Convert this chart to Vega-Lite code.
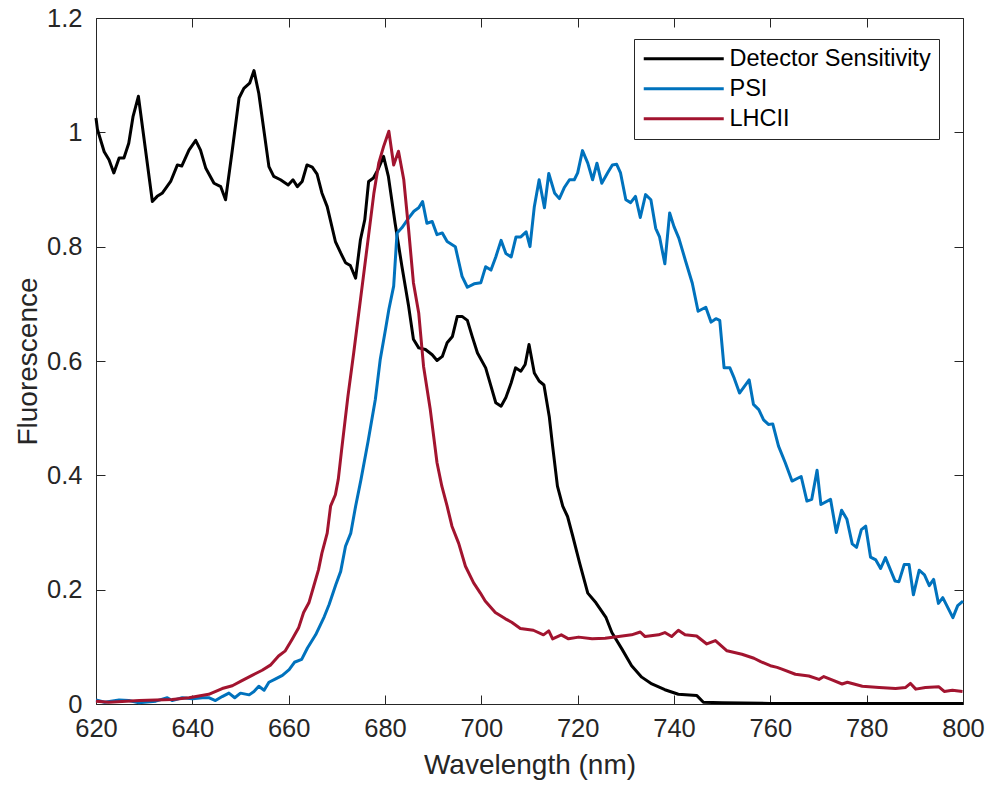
{
  "$schema": "https://vega.github.io/schema/vega-lite/v6.json",
  "width": 867,
  "height": 686,
  "autosize": {"type": "none"},
  "padding": {"left": 96, "top": 18, "right": 28, "bottom": 81},
  "background": "white",
  "config": {
    "font": "Liberation Sans",
    "view": {"stroke": "#262626", "strokeWidth": 1},
    "axis": {
      "domain": false,
      "grid": false,
      "ticks": true,
      "zindex": 1,
      "tickColor": "#262626",
      "tickWidth": 1,
      "tickSize": -9,
      "labelColor": "#262626",
      "labelFont": "Liberation Sans",
      "labelFontSize": 25.5,
      "titleColor": "#262626",
      "titleFont": "Liberation Sans",
      "titleFontSize": 28,
      "titleFontWeight": "normal"
    }
  },
  "data": {
    "values": [
      {"series": "Detector Sensitivity", "nm": 620, "value": 1.025},
      {"series": "Detector Sensitivity", "nm": 620.3, "value": 1.005},
      {"series": "Detector Sensitivity", "nm": 621.7, "value": 0.966},
      {"series": "Detector Sensitivity", "nm": 622.7, "value": 0.952},
      {"series": "Detector Sensitivity", "nm": 623.7, "value": 0.929},
      {"series": "Detector Sensitivity", "nm": 624.8, "value": 0.955},
      {"series": "Detector Sensitivity", "nm": 625.8, "value": 0.955},
      {"series": "Detector Sensitivity", "nm": 626.8, "value": 0.981},
      {"series": "Detector Sensitivity", "nm": 627.7, "value": 1.028},
      {"series": "Detector Sensitivity", "nm": 628.8, "value": 1.063},
      {"series": "Detector Sensitivity", "nm": 630, "value": 0.987},
      {"series": "Detector Sensitivity", "nm": 631.7, "value": 0.879},
      {"series": "Detector Sensitivity", "nm": 632.7, "value": 0.888},
      {"series": "Detector Sensitivity", "nm": 633.8, "value": 0.894},
      {"series": "Detector Sensitivity", "nm": 635.5, "value": 0.914},
      {"series": "Detector Sensitivity", "nm": 636.9, "value": 0.943},
      {"series": "Detector Sensitivity", "nm": 637.8, "value": 0.941},
      {"series": "Detector Sensitivity", "nm": 639.3, "value": 0.969},
      {"series": "Detector Sensitivity", "nm": 640.7, "value": 0.986},
      {"series": "Detector Sensitivity", "nm": 641.7, "value": 0.969},
      {"series": "Detector Sensitivity", "nm": 642.8, "value": 0.937},
      {"series": "Detector Sensitivity", "nm": 644.5, "value": 0.911},
      {"series": "Detector Sensitivity", "nm": 645.9, "value": 0.905},
      {"series": "Detector Sensitivity", "nm": 646.9, "value": 0.882},
      {"series": "Detector Sensitivity", "nm": 648.3, "value": 0.969},
      {"series": "Detector Sensitivity", "nm": 649.7, "value": 1.06},
      {"series": "Detector Sensitivity", "nm": 650.7, "value": 1.077},
      {"series": "Detector Sensitivity", "nm": 651.9, "value": 1.086},
      {"series": "Detector Sensitivity", "nm": 652.8, "value": 1.108},
      {"series": "Detector Sensitivity", "nm": 653.8, "value": 1.068},
      {"series": "Detector Sensitivity", "nm": 655.9, "value": 0.94},
      {"series": "Detector Sensitivity", "nm": 656.9, "value": 0.923},
      {"series": "Detector Sensitivity", "nm": 658.3, "value": 0.917},
      {"series": "Detector Sensitivity", "nm": 659.9, "value": 0.908},
      {"series": "Detector Sensitivity", "nm": 660.9, "value": 0.917},
      {"series": "Detector Sensitivity", "nm": 661.8, "value": 0.905},
      {"series": "Detector Sensitivity", "nm": 662.8, "value": 0.914},
      {"series": "Detector Sensitivity", "nm": 663.8, "value": 0.943},
      {"series": "Detector Sensitivity", "nm": 664.9, "value": 0.939},
      {"series": "Detector Sensitivity", "nm": 665.9, "value": 0.927},
      {"series": "Detector Sensitivity", "nm": 666.9, "value": 0.894},
      {"series": "Detector Sensitivity", "nm": 668, "value": 0.87},
      {"series": "Detector Sensitivity", "nm": 669.7, "value": 0.809},
      {"series": "Detector Sensitivity", "nm": 670.8, "value": 0.789},
      {"series": "Detector Sensitivity", "nm": 671.8, "value": 0.772},
      {"series": "Detector Sensitivity", "nm": 672.8, "value": 0.767},
      {"series": "Detector Sensitivity", "nm": 673.9, "value": 0.745},
      {"series": "Detector Sensitivity", "nm": 674.9, "value": 0.812},
      {"series": "Detector Sensitivity", "nm": 675.8, "value": 0.847},
      {"series": "Detector Sensitivity", "nm": 676.6, "value": 0.914},
      {"series": "Detector Sensitivity", "nm": 677.6, "value": 0.92},
      {"series": "Detector Sensitivity", "nm": 678.5, "value": 0.934},
      {"series": "Detector Sensitivity", "nm": 679.7, "value": 0.958},
      {"series": "Detector Sensitivity", "nm": 680.7, "value": 0.923},
      {"series": "Detector Sensitivity", "nm": 682.1, "value": 0.841},
      {"series": "Detector Sensitivity", "nm": 683.5, "value": 0.766},
      {"series": "Detector Sensitivity", "nm": 684.9, "value": 0.696},
      {"series": "Detector Sensitivity", "nm": 685.9, "value": 0.638},
      {"series": "Detector Sensitivity", "nm": 687, "value": 0.623},
      {"series": "Detector Sensitivity", "nm": 688.4, "value": 0.62},
      {"series": "Detector Sensitivity", "nm": 689.8, "value": 0.611},
      {"series": "Detector Sensitivity", "nm": 690.8, "value": 0.601},
      {"series": "Detector Sensitivity", "nm": 691.9, "value": 0.608},
      {"series": "Detector Sensitivity", "nm": 692.9, "value": 0.632},
      {"series": "Detector Sensitivity", "nm": 694, "value": 0.643},
      {"series": "Detector Sensitivity", "nm": 695, "value": 0.678},
      {"series": "Detector Sensitivity", "nm": 696, "value": 0.678},
      {"series": "Detector Sensitivity", "nm": 697.1, "value": 0.671},
      {"series": "Detector Sensitivity", "nm": 698.1, "value": 0.643},
      {"series": "Detector Sensitivity", "nm": 699.2, "value": 0.614},
      {"series": "Detector Sensitivity", "nm": 700.9, "value": 0.588},
      {"series": "Detector Sensitivity", "nm": 702, "value": 0.556},
      {"series": "Detector Sensitivity", "nm": 703, "value": 0.527},
      {"series": "Detector Sensitivity", "nm": 704.1, "value": 0.521},
      {"series": "Detector Sensitivity", "nm": 705.1, "value": 0.536},
      {"series": "Detector Sensitivity", "nm": 706.2, "value": 0.562},
      {"series": "Detector Sensitivity", "nm": 707.1, "value": 0.588},
      {"series": "Detector Sensitivity", "nm": 708.2, "value": 0.582},
      {"series": "Detector Sensitivity", "nm": 709.1, "value": 0.594},
      {"series": "Detector Sensitivity", "nm": 709.9, "value": 0.629},
      {"series": "Detector Sensitivity", "nm": 711, "value": 0.579},
      {"series": "Detector Sensitivity", "nm": 712, "value": 0.565},
      {"series": "Detector Sensitivity", "nm": 713, "value": 0.558},
      {"series": "Detector Sensitivity", "nm": 714.1, "value": 0.503},
      {"series": "Detector Sensitivity", "nm": 714.8, "value": 0.451},
      {"series": "Detector Sensitivity", "nm": 715.8, "value": 0.381},
      {"series": "Detector Sensitivity", "nm": 716.9, "value": 0.346},
      {"series": "Detector Sensitivity", "nm": 717.9, "value": 0.328},
      {"series": "Detector Sensitivity", "nm": 719, "value": 0.293},
      {"series": "Detector Sensitivity", "nm": 720.4, "value": 0.247},
      {"series": "Detector Sensitivity", "nm": 722.1, "value": 0.194},
      {"series": "Detector Sensitivity", "nm": 723.8, "value": 0.177},
      {"series": "Detector Sensitivity", "nm": 725.9, "value": 0.151},
      {"series": "Detector Sensitivity", "nm": 727.1, "value": 0.125},
      {"series": "Detector Sensitivity", "nm": 729.2, "value": 0.096},
      {"series": "Detector Sensitivity", "nm": 731.2, "value": 0.067},
      {"series": "Detector Sensitivity", "nm": 733.3, "value": 0.047},
      {"series": "Detector Sensitivity", "nm": 735.4, "value": 0.035},
      {"series": "Detector Sensitivity", "nm": 738.1, "value": 0.025},
      {"series": "Detector Sensitivity", "nm": 740.9, "value": 0.017},
      {"series": "Detector Sensitivity", "nm": 744.7, "value": 0.015},
      {"series": "Detector Sensitivity", "nm": 746.1, "value": 0.003},
      {"series": "Detector Sensitivity", "nm": 750, "value": 0.002},
      {"series": "Detector Sensitivity", "nm": 760, "value": 0.001},
      {"series": "Detector Sensitivity", "nm": 770, "value": 0.001},
      {"series": "Detector Sensitivity", "nm": 780, "value": 0.001},
      {"series": "Detector Sensitivity", "nm": 790, "value": 0.001},
      {"series": "Detector Sensitivity", "nm": 800, "value": 0.001},
      {"series": "PSI", "nm": 620, "value": 0.007},
      {"series": "PSI", "nm": 621.8, "value": 0.003},
      {"series": "PSI", "nm": 624.8, "value": 0.007},
      {"series": "PSI", "nm": 626.8, "value": 0.006},
      {"series": "PSI", "nm": 628.9, "value": 0.002},
      {"series": "PSI", "nm": 632.4, "value": 0.005},
      {"series": "PSI", "nm": 634.8, "value": 0.011},
      {"series": "PSI", "nm": 635.8, "value": 0.006},
      {"series": "PSI", "nm": 637.9, "value": 0.011},
      {"series": "PSI", "nm": 640, "value": 0.009},
      {"series": "PSI", "nm": 642.1, "value": 0.011},
      {"series": "PSI", "nm": 643.4, "value": 0.011},
      {"series": "PSI", "nm": 644.8, "value": 0.006},
      {"series": "PSI", "nm": 646.2, "value": 0.013},
      {"series": "PSI", "nm": 647.6, "value": 0.019},
      {"series": "PSI", "nm": 648.8, "value": 0.011},
      {"series": "PSI", "nm": 650, "value": 0.019},
      {"series": "PSI", "nm": 651.8, "value": 0.016},
      {"series": "PSI", "nm": 652.8, "value": 0.022},
      {"series": "PSI", "nm": 653.8, "value": 0.031},
      {"series": "PSI", "nm": 654.9, "value": 0.024},
      {"series": "PSI", "nm": 655.9, "value": 0.038},
      {"series": "PSI", "nm": 657.3, "value": 0.044},
      {"series": "PSI", "nm": 658.7, "value": 0.05},
      {"series": "PSI", "nm": 660.1, "value": 0.06},
      {"series": "PSI", "nm": 661.2, "value": 0.073},
      {"series": "PSI", "nm": 662.7, "value": 0.078},
      {"series": "PSI", "nm": 663.9, "value": 0.098},
      {"series": "PSI", "nm": 665.6, "value": 0.121},
      {"series": "PSI", "nm": 667.4, "value": 0.153},
      {"series": "PSI", "nm": 668.4, "value": 0.174},
      {"series": "PSI", "nm": 669.8, "value": 0.209},
      {"series": "PSI", "nm": 670.8, "value": 0.232},
      {"series": "PSI", "nm": 671.8, "value": 0.276},
      {"series": "PSI", "nm": 672.9, "value": 0.299},
      {"series": "PSI", "nm": 673.9, "value": 0.346},
      {"series": "PSI", "nm": 675, "value": 0.392},
      {"series": "PSI", "nm": 676.5, "value": 0.46},
      {"series": "PSI", "nm": 678, "value": 0.533},
      {"series": "PSI", "nm": 679, "value": 0.602},
      {"series": "PSI", "nm": 680.1, "value": 0.655},
      {"series": "PSI", "nm": 680.8, "value": 0.69},
      {"series": "PSI", "nm": 681.8, "value": 0.731},
      {"series": "PSI", "nm": 682.5, "value": 0.824},
      {"series": "PSI", "nm": 683.5, "value": 0.833},
      {"series": "PSI", "nm": 684.9, "value": 0.85},
      {"series": "PSI", "nm": 686, "value": 0.862},
      {"series": "PSI", "nm": 687, "value": 0.868},
      {"series": "PSI", "nm": 687.8, "value": 0.879},
      {"series": "PSI", "nm": 688.7, "value": 0.841},
      {"series": "PSI", "nm": 689.8, "value": 0.844},
      {"series": "PSI", "nm": 690.8, "value": 0.821},
      {"series": "PSI", "nm": 691.9, "value": 0.824},
      {"series": "PSI", "nm": 692.9, "value": 0.809},
      {"series": "PSI", "nm": 694.6, "value": 0.8},
      {"series": "PSI", "nm": 696, "value": 0.748},
      {"series": "PSI", "nm": 697.1, "value": 0.729},
      {"series": "PSI", "nm": 698.5, "value": 0.735},
      {"series": "PSI", "nm": 699.9, "value": 0.737},
      {"series": "PSI", "nm": 700.9, "value": 0.765},
      {"series": "PSI", "nm": 702, "value": 0.759},
      {"series": "PSI", "nm": 703, "value": 0.782},
      {"series": "PSI", "nm": 704.1, "value": 0.811},
      {"series": "PSI", "nm": 705.1, "value": 0.788},
      {"series": "PSI", "nm": 706.2, "value": 0.782},
      {"series": "PSI", "nm": 707.2, "value": 0.817},
      {"series": "PSI", "nm": 708.2, "value": 0.817},
      {"series": "PSI", "nm": 709.3, "value": 0.826},
      {"series": "PSI", "nm": 710.1, "value": 0.8},
      {"series": "PSI", "nm": 711, "value": 0.87},
      {"series": "PSI", "nm": 712, "value": 0.917},
      {"series": "PSI", "nm": 713.1, "value": 0.868},
      {"series": "PSI", "nm": 714, "value": 0.928},
      {"series": "PSI", "nm": 715.2, "value": 0.894},
      {"series": "PSI", "nm": 716.2, "value": 0.884},
      {"series": "PSI", "nm": 717.2, "value": 0.903},
      {"series": "PSI", "nm": 718.3, "value": 0.917},
      {"series": "PSI", "nm": 719.3, "value": 0.917},
      {"series": "PSI", "nm": 720, "value": 0.929},
      {"series": "PSI", "nm": 721, "value": 0.968},
      {"series": "PSI", "nm": 722.1, "value": 0.946},
      {"series": "PSI", "nm": 723.1, "value": 0.917},
      {"series": "PSI", "nm": 724, "value": 0.946},
      {"series": "PSI", "nm": 725, "value": 0.911},
      {"series": "PSI", "nm": 726.2, "value": 0.929},
      {"series": "PSI", "nm": 727.2, "value": 0.943},
      {"series": "PSI", "nm": 728.1, "value": 0.944},
      {"series": "PSI", "nm": 728.9, "value": 0.929},
      {"series": "PSI", "nm": 730, "value": 0.882},
      {"series": "PSI", "nm": 731, "value": 0.877},
      {"series": "PSI", "nm": 732, "value": 0.888},
      {"series": "PSI", "nm": 733, "value": 0.851},
      {"series": "PSI", "nm": 734.1, "value": 0.891},
      {"series": "PSI", "nm": 735.2, "value": 0.882},
      {"series": "PSI", "nm": 736.2, "value": 0.832},
      {"series": "PSI", "nm": 737, "value": 0.817},
      {"series": "PSI", "nm": 738.1, "value": 0.77},
      {"series": "PSI", "nm": 739.1, "value": 0.859},
      {"series": "PSI", "nm": 740, "value": 0.835},
      {"series": "PSI", "nm": 741, "value": 0.815},
      {"series": "PSI", "nm": 742.4, "value": 0.775},
      {"series": "PSI", "nm": 743.8, "value": 0.736},
      {"series": "PSI", "nm": 745, "value": 0.687},
      {"series": "PSI", "nm": 746.6, "value": 0.694},
      {"series": "PSI", "nm": 747.7, "value": 0.668},
      {"series": "PSI", "nm": 748.7, "value": 0.674},
      {"series": "PSI", "nm": 749.5, "value": 0.671},
      {"series": "PSI", "nm": 750.4, "value": 0.588},
      {"series": "PSI", "nm": 751.6, "value": 0.588},
      {"series": "PSI", "nm": 752.5, "value": 0.57},
      {"series": "PSI", "nm": 753.6, "value": 0.544},
      {"series": "PSI", "nm": 755.6, "value": 0.567},
      {"series": "PSI", "nm": 756.5, "value": 0.524},
      {"series": "PSI", "nm": 757.6, "value": 0.515},
      {"series": "PSI", "nm": 758.6, "value": 0.497},
      {"series": "PSI", "nm": 759.6, "value": 0.489},
      {"series": "PSI", "nm": 760.5, "value": 0.49},
      {"series": "PSI", "nm": 761.7, "value": 0.451},
      {"series": "PSI", "nm": 763.1, "value": 0.422},
      {"series": "PSI", "nm": 764.5, "value": 0.39},
      {"series": "PSI", "nm": 766.4, "value": 0.398},
      {"series": "PSI", "nm": 767.6, "value": 0.355},
      {"series": "PSI", "nm": 768.6, "value": 0.358},
      {"series": "PSI", "nm": 769.7, "value": 0.409},
      {"series": "PSI", "nm": 770.5, "value": 0.349},
      {"series": "PSI", "nm": 772.5, "value": 0.358},
      {"series": "PSI", "nm": 773.7, "value": 0.3},
      {"series": "PSI", "nm": 774.8, "value": 0.339},
      {"series": "PSI", "nm": 775.9, "value": 0.323},
      {"series": "PSI", "nm": 777, "value": 0.28},
      {"series": "PSI", "nm": 777.9, "value": 0.274},
      {"series": "PSI", "nm": 778.9, "value": 0.305},
      {"series": "PSI", "nm": 779.8, "value": 0.311},
      {"series": "PSI", "nm": 780.8, "value": 0.257},
      {"series": "PSI", "nm": 781.9, "value": 0.252},
      {"series": "PSI", "nm": 782.9, "value": 0.237},
      {"series": "PSI", "nm": 783.9, "value": 0.256},
      {"series": "PSI", "nm": 785.9, "value": 0.215},
      {"series": "PSI", "nm": 786.7, "value": 0.214},
      {"series": "PSI", "nm": 787.8, "value": 0.244},
      {"series": "PSI", "nm": 788.8, "value": 0.244},
      {"series": "PSI", "nm": 789.7, "value": 0.191},
      {"series": "PSI", "nm": 790.9, "value": 0.234},
      {"series": "PSI", "nm": 792, "value": 0.226},
      {"series": "PSI", "nm": 793, "value": 0.207},
      {"series": "PSI", "nm": 793.9, "value": 0.218},
      {"series": "PSI", "nm": 794.9, "value": 0.176},
      {"series": "PSI", "nm": 795.8, "value": 0.186},
      {"series": "PSI", "nm": 797.9, "value": 0.151},
      {"series": "PSI", "nm": 798.9, "value": 0.172},
      {"series": "PSI", "nm": 800, "value": 0.18},
      {"series": "LHCII", "nm": 620, "value": 0.005},
      {"series": "LHCII", "nm": 622.7, "value": 0.003},
      {"series": "LHCII", "nm": 629, "value": 0.006},
      {"series": "LHCII", "nm": 635.8, "value": 0.008},
      {"series": "LHCII", "nm": 639.3, "value": 0.011},
      {"series": "LHCII", "nm": 643.4, "value": 0.017},
      {"series": "LHCII", "nm": 646.2, "value": 0.027},
      {"series": "LHCII", "nm": 648.3, "value": 0.032},
      {"series": "LHCII", "nm": 650.3, "value": 0.041},
      {"series": "LHCII", "nm": 652.4, "value": 0.05},
      {"series": "LHCII", "nm": 654.5, "value": 0.059},
      {"series": "LHCII", "nm": 656.2, "value": 0.068},
      {"series": "LHCII", "nm": 657.9, "value": 0.084},
      {"series": "LHCII", "nm": 659.3, "value": 0.093},
      {"series": "LHCII", "nm": 660.7, "value": 0.113},
      {"series": "LHCII", "nm": 662.1, "value": 0.134},
      {"series": "LHCII", "nm": 663.1, "value": 0.16},
      {"series": "LHCII", "nm": 664.2, "value": 0.177},
      {"series": "LHCII", "nm": 665.2, "value": 0.206},
      {"series": "LHCII", "nm": 666.2, "value": 0.235},
      {"series": "LHCII", "nm": 666.9, "value": 0.264},
      {"series": "LHCII", "nm": 668, "value": 0.299},
      {"series": "LHCII", "nm": 668.7, "value": 0.346},
      {"series": "LHCII", "nm": 669.7, "value": 0.366},
      {"series": "LHCII", "nm": 670.3, "value": 0.393},
      {"series": "LHCII", "nm": 671, "value": 0.445},
      {"series": "LHCII", "nm": 672.3, "value": 0.538},
      {"series": "LHCII", "nm": 673.5, "value": 0.614},
      {"series": "LHCII", "nm": 674.9, "value": 0.707},
      {"series": "LHCII", "nm": 676.3, "value": 0.8},
      {"series": "LHCII", "nm": 677.7, "value": 0.894},
      {"series": "LHCII", "nm": 678.7, "value": 0.946},
      {"series": "LHCII", "nm": 679.7, "value": 0.975},
      {"series": "LHCII", "nm": 680.8, "value": 1.002},
      {"series": "LHCII", "nm": 681.8, "value": 0.943},
      {"series": "LHCII", "nm": 682.8, "value": 0.967},
      {"series": "LHCII", "nm": 683.9, "value": 0.917},
      {"series": "LHCII", "nm": 684.9, "value": 0.83},
      {"series": "LHCII", "nm": 685.9, "value": 0.737},
      {"series": "LHCII", "nm": 687, "value": 0.684},
      {"series": "LHCII", "nm": 688, "value": 0.591},
      {"series": "LHCII", "nm": 689.4, "value": 0.515},
      {"series": "LHCII", "nm": 690.8, "value": 0.422},
      {"series": "LHCII", "nm": 691.8, "value": 0.381},
      {"series": "LHCII", "nm": 692.9, "value": 0.346},
      {"series": "LHCII", "nm": 693.9, "value": 0.311},
      {"series": "LHCII", "nm": 695.3, "value": 0.281},
      {"series": "LHCII", "nm": 696.7, "value": 0.241},
      {"series": "LHCII", "nm": 698.4, "value": 0.212},
      {"series": "LHCII", "nm": 699.8, "value": 0.194},
      {"series": "LHCII", "nm": 700.8, "value": 0.18},
      {"series": "LHCII", "nm": 702.9, "value": 0.16},
      {"series": "LHCII", "nm": 705, "value": 0.149},
      {"series": "LHCII", "nm": 706.3, "value": 0.143},
      {"series": "LHCII", "nm": 708.1, "value": 0.132},
      {"series": "LHCII", "nm": 710.8, "value": 0.129},
      {"series": "LHCII", "nm": 712.9, "value": 0.121},
      {"series": "LHCII", "nm": 714, "value": 0.128},
      {"series": "LHCII", "nm": 714.8, "value": 0.114},
      {"series": "LHCII", "nm": 716.6, "value": 0.121},
      {"series": "LHCII", "nm": 718.1, "value": 0.114},
      {"series": "LHCII", "nm": 720.2, "value": 0.117},
      {"series": "LHCII", "nm": 723, "value": 0.114},
      {"series": "LHCII", "nm": 725.7, "value": 0.115},
      {"series": "LHCII", "nm": 728.5, "value": 0.118},
      {"series": "LHCII", "nm": 731.2, "value": 0.121},
      {"series": "LHCII", "nm": 733, "value": 0.126},
      {"series": "LHCII", "nm": 734, "value": 0.118},
      {"series": "LHCII", "nm": 736.8, "value": 0.121},
      {"series": "LHCII", "nm": 738.1, "value": 0.125},
      {"series": "LHCII", "nm": 739.5, "value": 0.118},
      {"series": "LHCII", "nm": 740.9, "value": 0.129},
      {"series": "LHCII", "nm": 742.3, "value": 0.121},
      {"series": "LHCII", "nm": 744.7, "value": 0.119},
      {"series": "LHCII", "nm": 746.8, "value": 0.105},
      {"series": "LHCII", "nm": 748.6, "value": 0.111},
      {"series": "LHCII", "nm": 751, "value": 0.093},
      {"series": "LHCII", "nm": 754.1, "value": 0.087},
      {"series": "LHCII", "nm": 756.6, "value": 0.08},
      {"series": "LHCII", "nm": 758, "value": 0.074},
      {"series": "LHCII", "nm": 760, "value": 0.067},
      {"series": "LHCII", "nm": 761.4, "value": 0.064},
      {"series": "LHCII", "nm": 762.4, "value": 0.061},
      {"series": "LHCII", "nm": 765.2, "value": 0.052},
      {"series": "LHCII", "nm": 768, "value": 0.049},
      {"series": "LHCII", "nm": 770.1, "value": 0.043},
      {"series": "LHCII", "nm": 771.1, "value": 0.048},
      {"series": "LHCII", "nm": 772.8, "value": 0.042},
      {"series": "LHCII", "nm": 774.9, "value": 0.035},
      {"series": "LHCII", "nm": 776, "value": 0.038},
      {"series": "LHCII", "nm": 779.1, "value": 0.031},
      {"series": "LHCII", "nm": 782.6, "value": 0.029},
      {"series": "LHCII", "nm": 786, "value": 0.027},
      {"series": "LHCII", "nm": 788.1, "value": 0.029},
      {"series": "LHCII", "nm": 789.1, "value": 0.036},
      {"series": "LHCII", "nm": 790.2, "value": 0.026},
      {"series": "LHCII", "nm": 792.2, "value": 0.029},
      {"series": "LHCII", "nm": 795, "value": 0.03},
      {"series": "LHCII", "nm": 796.1, "value": 0.022},
      {"series": "LHCII", "nm": 797.8, "value": 0.024},
      {"series": "LHCII", "nm": 799.9, "value": 0.022}
    ]
  },
  "layer": [
    {
      "mark": {"type": "line", "strokeWidth": 3, "strokeJoin": "round"},
      "encoding": {
        "x": {
          "field": "nm", "type": "quantitative",
          "scale": {"domain": [620, 800], "nice": false, "zero": false},
          "axis": {"orient": "bottom", "values": [620, 640, 660, 680, 700, 720, 740, 760, 780, 800], "title": "Wavelength (nm)", "labelPadding": 21, "titlePadding": 10, "labelFlush": false}
        },
        "y": {
          "field": "value", "type": "quantitative",
          "scale": {"domain": [0, 1.2], "nice": false},
          "axis": {"orient": "left", "values": [0, 0.2, 0.4, 0.6, 0.8, 1, 1.2], "format": "~g", "title": "Fluorescence", "labelPadding": 23, "titlePadding": 4, "labelFlush": false}
        },
        "color": {
          "field": "series", "type": "nominal",
          "scale": {"domain": ["Detector Sensitivity", "PSI", "LHCII"], "range": ["#000000", "#0072BD", "#A2142F"]},
          "legend": {
            "title": null,
            "orient": "none",
            "legendX": 538,
            "legendY": 21,
            "direction": "vertical",
            "symbolType": "M-4,0H4",
            "symbolSize": 400,
            "symbolStrokeWidth": 3,
            "symbolOffset": 30,
            "labelOffset": 34,
            "labelAlign": "left",
            "labelLimit": 0,
            "labelFont": "Liberation Sans",
            "labelFontSize": 23.5,
            "labelColor": "#000000",
            "rowPadding": 5,
            "padding": 8,
            "strokeColor": "#262626",
            "fillColor": "white",
            "cornerRadius": 0
          }
        }
      }
    },
    {
      "data": {"values": [{"nm": 620, "value": 0}]},
      "mark": {"type": "point", "opacity": 0},
      "encoding": {
        "x": {
          "field": "nm", "type": "quantitative",
          "scale": {"domain": [620, 800], "nice": false, "zero": false},
          "axis": {"orient": "top", "values": [620, 640, 660, 680, 700, 720, 740, 760, 780, 800], "labels": false, "title": null}
        },
        "y": {
          "field": "value", "type": "quantitative",
          "scale": {"domain": [0, 1.2], "nice": false},
          "axis": {"orient": "right", "values": [0, 0.2, 0.4, 0.6, 0.8, 1, 1.2], "labels": false, "title": null}
        }
      }
    }
  ],
  "resolve": {"axis": {"x": "independent", "y": "independent"}}
}
